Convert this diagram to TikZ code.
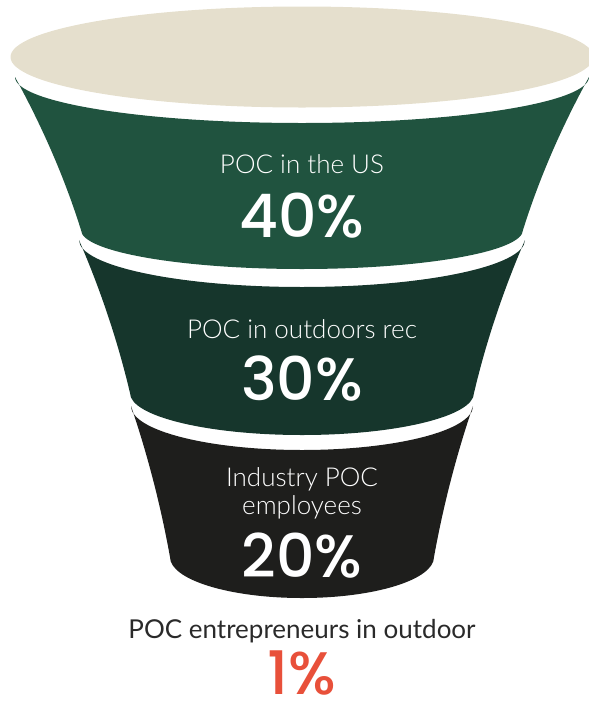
\documentclass[tikz,border=0pt]{standalone}
\usepackage{fontspec}
\IfFontExistsTF{Lato Light}{\newfontfamily\labfont{Lato Light}}{\newfontfamily\labfont{Lato}}
\newfontfamily\labregfont{Lato}
\IfFontExistsTF{Poppins Medium}{\newfontfamily\numfont{Poppins Medium}}{\newfontfamily\numfont{Poppins}}
\definecolor{beige}{HTML}{E5DFCD}
\definecolor{gone}{HTML}{20533F}
\definecolor{gtwo}{HTML}{16362C}
\definecolor{gthree}{HTML}{1E1E1C}
\definecolor{redo}{HTML}{E8503A}
\definecolor{darktext}{HTML}{2A2A2A}
\tikzset{
  lab/.style={anchor=base, text=white, font=\labfont\fontsize{26}{30}\selectfont, inner sep=0pt},
  num/.style={anchor=base, text=white, font=\numfont\fontsize{60}{64}\selectfont, inner sep=0pt, text depth=0pt},
}
\begin{document}
\begin{tikzpicture}[x=1pt,y=-1pt]
\useasboundingbox (0,0) rectangle (589,702);
% top ellipse
\fill[beige] (302,57) ellipse[x radius=291.5pt, y radius=50.5pt];
% band 1
\fill[gone] (15,77) arc[start angle=180, end angle=360, x radius=287pt, y radius=46pt]
  .. controls (561,128) and (539,179) .. (523,230)
  arc[start angle=0, end angle=-180, x radius=221pt, y radius=39pt]
  .. controls (65,179) and (43,128) .. cycle;
% band 2
\fill[gtwo] (79,240) arc[start angle=180, end angle=360, x radius=223pt, y radius=47pt]
  .. controls (503,291) and (486,342) .. (474,393)
  arc[start angle=0, end angle=-180, x radius=172pt, y radius=42pt]
  .. controls (118,342) and (101,291) .. cycle;
% band 3
\fill[gthree] (131,406) arc[start angle=180, end angle=360, x radius=171pt, y radius=44pt]
  .. controls (456,456) and (443,507) .. (434,557)
  arc[start angle=0, end angle=-180, x radius=132pt, y radius=41pt]
  .. controls (161,507) and (148,456) .. cycle;
% texts
\node[lab] (l1) at (302,173) {POC in the US};
\node[num] (n1) at (302,237) {40\%};
\node[lab] (l2) at (302,338) {POC in outdoors rec};
\node[num] (n2) at (302,400) {30\%};
\node[lab] (l3a) at (302,486) {Industry POC};
\node[lab] (l3b) at (302,514) {employees};
\node[num] (n3) at (302,577) {20\%};
\node[lab, text=darktext, font=\labregfont\fontsize{26}{30}\selectfont] (l4) at (302,638) {POC entrepreneurs in outdoor};
\node[num, text=redo] (n4) at (302,694) {1\%};
\end{tikzpicture}
\end{document}
